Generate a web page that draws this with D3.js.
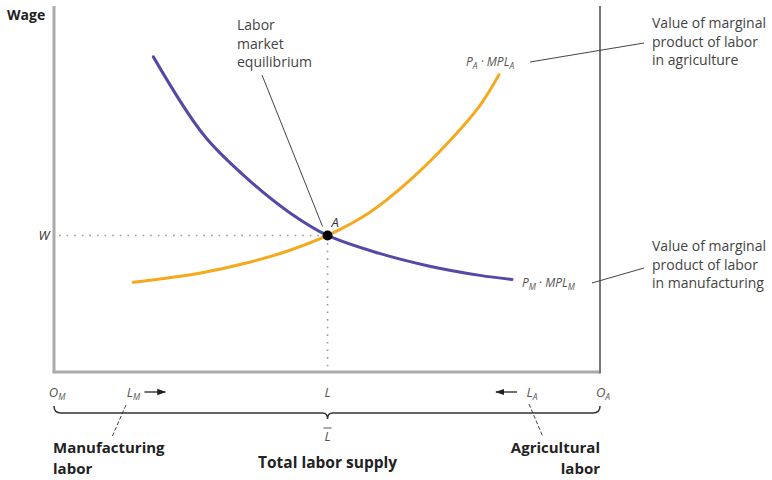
<!DOCTYPE html>
<html><head><meta charset="utf-8">
<script src="https://cdn.jsdelivr.net/npm/d3@7"></script>
<style>
html,body{margin:0;padding:0;background:#fff;}
text{font-family:"Open Sans",Lato,sans-serif;}
</style></head>
<body>
<svg id="c" width="772" height="480"></svg>
<script>
// ---- data (labor measured from O_M, 0..100; wage in arbitrary units 0..100) ----
const laborM = [18.2, 27.5, 35.8, 43.1, 50.1, 59.6, 68.8, 78.0, 83.9];
const vmplM  = [86.1, 64.6, 52.3, 43.6, 37.3, 32.4, 28.9, 26.4, 25.3];
const laborA = [14.5, 26.6, 35.8, 43.1, 50.1, 57.8, 65.1, 72.5, 78.0, 81.5];
const vmplA  = [24.5, 27.0, 30.0, 33.2, 37.3, 43.6, 52.3, 63.2, 72.8, 81.2];
const eqLabor = 50.1, eqWage = 37.3;
const tickPos   = [0, 14, 50.1, 87, 100];
const tickMain  = ["O", "L", "L", "L", "O"];
const tickSub   = ["M", "M", "", "A", "A"];

const svg = d3.select("#c");
const x = d3.scaleLinear().domain([0, 100]).range([54, 600]);
const y = d3.scaleLinear().domain([0, 100]).range([372, 6]);

// axes frame
svg.append("line").attr("x1", x(0)).attr("x2", x(0)).attr("y1", y(100)).attr("y2", y(0))
  .attr("stroke", "#aaa").attr("stroke-width", 3);
svg.append("line").attr("x1", x(0) - 1.5).attr("x2", x(100)).attr("y1", y(0)).attr("y2", y(0))
  .attr("stroke", "#aaa").attr("stroke-width", 3);
svg.append("line").attr("x1", x(100)).attr("x2", x(100)).attr("y1", y(100)).attr("y2", y(0) + 1.5)
  .attr("stroke", "#777").attr("stroke-width", 2);

// dotted guides
svg.append("line").attr("x1", x(0) + 5).attr("x2", x(eqLabor)).attr("y1", y(eqWage)).attr("y2", y(eqWage))
  .attr("stroke", "#999").attr("stroke-width", 1.6).attr("stroke-dasharray", "1.6,6");
svg.append("line").attr("x1", x(eqLabor)).attr("x2", x(eqLabor)).attr("y1", y(eqWage)).attr("y2", y(0) - 3)
  .attr("stroke", "#999").attr("stroke-width", 1.6).attr("stroke-dasharray", "1.6,6");

// curves
const line = d3.line().x(d => x(d[0])).y(d => y(d[1])).curve(d3.curveCatmullRom.alpha(0.5));
svg.append("path").datum(d3.zip(laborA, vmplA)).attr("d", line)
  .attr("fill", "none").attr("stroke", "#f4a91f").attr("stroke-width", 3).attr("stroke-linecap", "round");
svg.append("path").datum(d3.zip(laborM, vmplM)).attr("d", line)
  .attr("fill", "none").attr("stroke", "#5648a4").attr("stroke-width", 3).attr("stroke-linecap", "round");

// equilibrium point
svg.append("circle").attr("cx", x(eqLabor)).attr("cy", y(eqWage)).attr("r", 5).attr("fill", "#000");
svg.append("text").attr("x", x(eqLabor) + 4).attr("y", y(eqWage) - 8).text("A")
  .attr("font-style", "italic").attr("font-size", 13).attr("fill", "#333");

// leader lines
const leader = (x1, y1, x2, y2, dash) => svg.append("line").attr("x1", x1).attr("y1", y1).attr("x2", x2).attr("y2", y2)
  .attr("stroke", "#444").attr("stroke-width", 1).attr("stroke-dasharray", dash || null);
leader(262, 75, x(eqLabor) - 5, y(eqWage) - 9);
leader(530, 62, 644, 43);
leader(592, 283, 644, 268);
leader(126, 405, 112, 437, "4,2");
leader(529, 404, 543, 437, "4,2");

// text helpers: one text element per line
function lines(xp, y0, dy, arr, opts) {
  arr.forEach((s, i) => svg.append("text").attr("x", xp).attr("y", y0 + i * dy)
    .attr("font-size", opts.size).attr("fill", opts.fill || "#333")
    .attr("font-weight", opts.weight || "normal").attr("text-anchor", opts.anchor || "start").text(s));
}
lines(7, 20, 0, ["Wage"], {size: 14, weight: "bold", fill: "#222"});
lines(237, 30, 18.5, ["Labor", "market", "equilibrium"], {size: 14, fill: "#444"});
lines(652, 28, 18.5, ["Value of marginal", "product of labor", "in agriculture"], {size: 14, fill: "#444"});
lines(652, 251, 18.5, ["Value of marginal", "product of labor", "in manufacturing"], {size: 14, fill: "#444"});
lines(53, 453, 21, ["Manufacturing", "labor"], {size: 15, weight: "bold", fill: "#222"});
lines(600, 453, 21, ["Agricultural", "labor"], {size: 15, weight: "bold", fill: "#222", anchor: "end"});
lines(x(eqLabor), 468, 0, ["Total labor supply"], {size: 15.5, weight: "bold", fill: "#222", anchor: "middle"});

// W label
svg.append("text").attr("x", 44).attr("y", y(eqWage) + 5).attr("text-anchor", "middle")
  .attr("font-style", "italic").attr("font-size", 13).attr("fill", "#333").text("W");

// curve labels with subscripts
function subLabel(xp, yp, parts, anchor) {
  const t = svg.append("text").attr("x", xp).attr("y", yp).attr("font-size", 12)
    .attr("font-style", "italic").attr("fill", "#555").attr("text-anchor", anchor || "start");
  parts.forEach(p => {
    const s = t.append("tspan").text(p[0]);
    if (p[1] === "sub") s.attr("font-size", 8.5).attr("dy", 3);
    if (p[1] === "up") s.attr("dy", -3);
  });
  return t;
}
subLabel(466, 66, [["P"], ["A", "sub"], [" · MPL", "up"], ["A", "sub"]]);
subLabel(522, 287, [["P"], ["M", "sub"], [" · MPL", "up"], ["M", "sub"]]);

// bottom tick labels
tickPos.forEach((p, i) => {
  const t = svg.append("text").attr("x", x(p) + (tickSub[i] ? 3 : 0)).attr("y", 397).attr("font-size", 13)
    .attr("font-style", "italic").attr("fill", "#555").attr("text-anchor", "middle");
  t.append("tspan").text(tickMain[i]);
  if (tickSub[i]) t.append("tspan").attr("font-size", 8.5).attr("dy", 3).text(tickSub[i]);
});

// arrows next to L_M and L_A
const defs = svg.append("defs");
defs.append("marker").attr("id", "ah").attr("viewBox", "0 0 10 10").attr("refX", 9).attr("refY", 5)
  .attr("markerWidth", 7).attr("markerHeight", 7).attr("orient", "auto")
  .append("path").attr("d", "M0,1.5 L10,5 L0,8.5 Z").attr("fill", "#222");
svg.append("line").attr("x1", x(14) + 14).attr("x2", x(14) + 35).attr("y1", 392).attr("y2", 392)
  .attr("stroke", "#222").attr("stroke-width", 1.3).attr("marker-end", "url(#ah)");
svg.append("line").attr("x1", x(87) - 12).attr("x2", x(87) - 33).attr("y1", 392).attr("y2", 392)
  .attr("stroke", "#222").attr("stroke-width", 1.3).attr("marker-end", "url(#ah)");

// brace
const bx0 = x(0), bx1 = x(100), bm = x(eqLabor), by = 413;
const brace = `M${bx0},${by - 7} Q${bx0},${by} ${bx0 + 7},${by} L${bm - 5},${by} Q${bm},${by} ${bm},${by + 6} Q${bm},${by} ${bm + 5},${by} L${bx1 - 7},${by} Q${bx1},${by} ${bx1},${by - 7}`;
svg.append("path").attr("d", brace).attr("fill", "none").attr("stroke", "#333").attr("stroke-width", 1.5);

// L-bar
svg.append("text").attr("x", bm).attr("y", 441).attr("text-anchor", "middle")
  .attr("font-size", 13).attr("font-style", "italic").attr("fill", "#555").text("L");
svg.append("line").attr("x1", bm - 4).attr("x2", bm + 4).attr("y1", 428).attr("y2", 428)
  .attr("stroke", "#555").attr("stroke-width", 1);
</script>
</body></html>
